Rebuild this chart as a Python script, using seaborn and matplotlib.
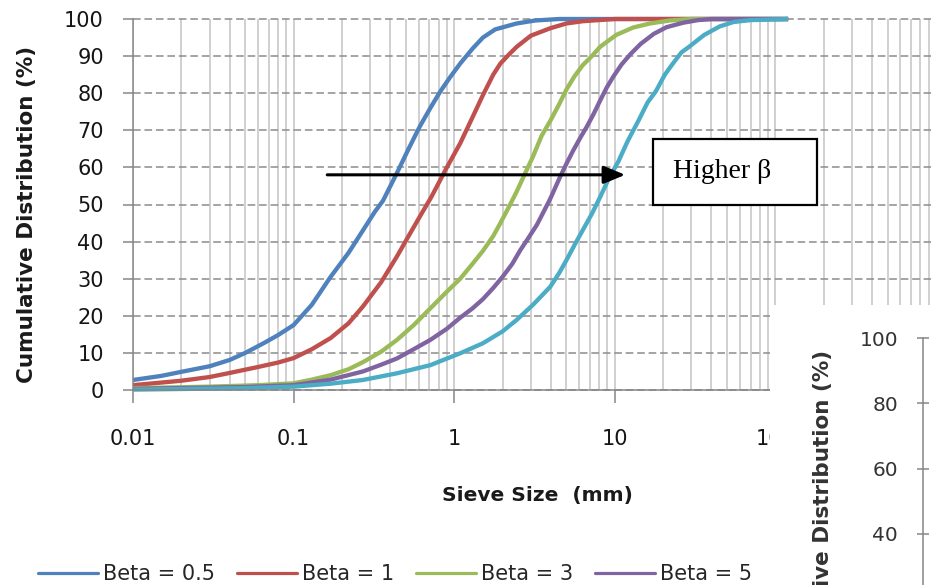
import matplotlib
matplotlib.use("Agg")
import matplotlib.pyplot as plt
import seaborn as sns
import pandas as pd
import numpy as np
from matplotlib.patches import Rectangle
from matplotlib.lines import Line2D
from matplotlib.ticker import LogLocator, NullFormatter

# ---------------- data ----------------
series_labels = ["Beta = 0.5", "Beta = 1", "Beta = 3", "Beta = 5", "Beta = 10"]
series_colors = ["#4F81BD", "#C0504D", "#9BBB59", "#8064A2", "#4BACC6"]

size_b05 = [0.01, 0.015, 0.02, 0.03, 0.04, 0.05, 0.065, 0.08, 0.1, 0.13, 0.17, 0.22, 0.27, 0.32,
            0.36, 0.44, 0.52, 0.61, 0.71, 0.82, 0.95, 1.09, 1.3, 1.51, 1.8, 2.45, 3.2, 4.5, 120]
cdf_b05 = [2.7, 3.8, 4.9, 6.4, 8.1, 10, 12.6, 14.8, 17.5, 23, 30.5, 37, 43, 48,
           51, 58.5, 65, 71, 76, 80.5, 84.5, 88, 92, 95, 97.2, 98.8, 99.6, 100, 100]

size_b1 = [0.01, 0.02, 0.03, 0.04, 0.06, 0.08, 0.1, 0.13, 0.17, 0.22, 0.27, 0.35, 0.44, 0.52,
           0.61, 0.72, 0.9, 1.09, 1.3, 1.51, 1.75, 1.94, 2.2, 2.45, 3.0, 3.96, 5, 6.3, 10, 120]
cdf_b1 = [1.3, 2.5, 3.5, 4.6, 6.2, 7.4, 8.6, 11, 14, 18, 22.5, 29, 36, 41.5,
          46.7, 52, 60, 66.5, 73.5, 79.5, 85, 88, 90.5, 92.5, 95.5, 97.5, 98.8, 99.4, 100, 100]

size_b3 = [0.01, 0.03, 0.06, 0.1, 0.13, 0.17, 0.22, 0.27, 0.35, 0.44, 0.56, 0.71, 0.9, 1.09,
           1.3, 1.51, 1.75, 1.94, 2.2, 2.45, 2.77, 3.1, 3.5, 3.96, 4.5, 5, 5.6, 6.3, 7.2,
           8.1, 10.2, 13, 16.6, 22, 30, 120]
cdf_b3 = [0.5, 0.9, 1.3, 1.8, 2.8, 4.0, 5.6, 7.5, 10.3, 13.5, 17.5, 22, 26.5, 30,
          34, 37.5, 41.5, 45, 49.5, 53.5, 58.5, 63, 68.5, 72.5, 77, 81, 84.5, 87.5, 90,
          92.5, 95.7, 97.7, 98.8, 99.6, 100, 100]

size_b5 = [0.01, 0.05, 0.1, 0.17, 0.27, 0.35, 0.44, 0.56, 0.71, 0.9, 1.09, 1.3, 1.51, 1.75,
           2.0, 2.3, 2.58, 2.9, 3.27, 3.6, 3.96, 4.57, 5.0, 5.5, 6.1, 6.7, 7.4, 8.1, 8.9,
           9.8, 11, 12.5, 14.5, 17.5, 21, 26.7, 33, 40, 120]
cdf_b5 = [0.3, 0.8, 1.3, 2.8, 5.0, 6.8, 8.5, 11, 13.5, 16.5, 19.5, 22, 24.5, 27.5,
          30.5, 34, 37.7, 41, 44.5, 48, 51.5, 57.5, 61, 64.5, 68, 71, 74.5, 78, 81.5,
          84.5, 87.7, 90.5, 93.3, 96, 97.8, 99, 99.7, 100, 100]

size_b10 = [0.01, 0.05, 0.1, 0.17, 0.27, 0.44, 0.71, 1.09, 1.51, 2.0, 2.45, 3.1, 3.96, 4.5,
            5, 5.6, 6.3, 7.2, 8.1, 9.3, 10.5, 12, 14, 16, 18, 20.5, 23, 26, 29, 36, 45,
            55, 70, 120]
cdf_b10 = [0.1, 0.5, 0.9, 1.7, 2.7, 4.5, 6.7, 9.9, 12.6, 15.8, 18.9, 23, 27.8, 31.5,
           35, 39, 43, 47.5, 52, 57.5, 61.5, 67, 72.5, 77.5, 80.5, 85, 88, 91, 92.5, 95.7, 98,
           99.2, 99.7, 100]

x_ticks = [0.01, 0.1, 1, 10, 100]
x_tick_labels = ["0.01", "0.1", "1", "10", "100"]
x_max = 1000
y_ticks = [0, 10, 20, 30, 40, 50, 60, 70, 80, 90, 100]
inset_y_ticks = [0, 20, 40, 60, 80, 100]

# ---------------- build long table ----------------
sizes = [size_b05, size_b1, size_b3, size_b5, size_b10]
cdfs = [cdf_b05, cdf_b1, cdf_b3, cdf_b5, cdf_b10]
df = pd.concat(
    [pd.DataFrame({"size": s, "cdf": c, "series": lab}) for s, c, lab in zip(sizes, cdfs, series_labels)],
    ignore_index=True,
)

# ---------------- style ----------------
sns.set_style("white")
plt.rcParams["font.family"] = ["DejaVu Sans"]

W, H = 931, 585
fig = plt.figure(figsize=(W / 100, H / 100), dpi=100)
fig.patch.set_facecolor("white")

ax_left, ax_right, ax_top, ax_bottom = 133, 936, 19, 390
ax = fig.add_axes([ax_left / W, 1 - ax_bottom / H, (ax_right - ax_left) / W, (ax_bottom - ax_top) / H])

sns.lineplot(
    data=df, x="size", y="cdf", hue="series", hue_order=series_labels,
    palette=series_colors, estimator=None, errorbar=None, linewidth=3.1,
    legend=False, ax=ax,
)
for ln in ax.lines:
    ln.set_clip_on(False)
    ln.set_solid_capstyle("butt")
    ln.set_solid_joinstyle("round")

ax.set_xscale("log")
ax.set_xlim(x_ticks[0], x_max)
ax.set_ylim(0, 100)
ax.set_xticks(x_ticks)
ax.set_xticklabels(x_tick_labels)
ax.set_yticks(y_ticks)
ax.xaxis.set_minor_locator(LogLocator(base=10, subs=np.arange(2, 10), numticks=100))
ax.xaxis.set_minor_formatter(NullFormatter())

ax.set_axisbelow(True)
ax.grid(True, which="both", axis="x", color="#c4c4c4", lw=1.1, ls="-")
ax.grid(True, which="major", axis="y", color="#8c8c8c", lw=1.1, ls=(0, (5, 2.5)))
for gl in ax.get_ygridlines():
    gl.set_clip_on(False)

axis_gray = "#868686"
for side in ["top", "right"]:
    ax.spines[side].set_visible(False)
for side in ["left", "bottom"]:
    ax.spines[side].set_color(axis_gray)
    ax.spines[side].set_linewidth(1.1)

ax.tick_params(axis="x", which="minor", length=0, bottom=False)
ax.tick_params(axis="x", which="major", bottom=True, direction="out", length=9, width=1.1,
               color=axis_gray, pad=19, labelsize=15, labelcolor="#151515")
ax.tick_params(axis="y", left=True, direction="out", length=7.5, width=1.1,
               color=axis_gray, pad=13.5, labelsize=15, labelcolor="#151515")
ax.set_xlabel("")
ax.set_ylabel("")

# axis titles
fig.text(27 / W, 1 - 214 / H, "Cumulative Distribution (%)", rotation=90, ha="center", va="center",
         fontsize=15.5, fontweight="bold", color="#1a1a1a")
fig.text(537 / W, 1 - 496 / H, "Sieve Size  (mm)", ha="center", va="center",
         fontsize=14.5, fontweight="bold", color="#1a1a1a")

# legend (part of main axes so the overlay panel hides its tail)
fs_leg = 15
fs_px = fs_leg * 100 / 72
handles = [Line2D([], [], color=c, lw=2.3) for c in series_colors]
ax.legend(handles, series_labels, loc="center left", bbox_to_anchor=(38 / W, 1 - 574 / H),
          bbox_transform=fig.transFigure, ncol=5, frameon=False, fontsize=fs_leg,
          handlelength=60 / fs_px, handletextpad=5 / fs_px, columnspacing=22 / fs_px,
          borderpad=0, borderaxespad=0)

# arrow and "Higher β" box
ax.annotate("", xy=(11.6, 58), xytext=(0.162, 58),
            arrowprops=dict(arrowstyle="-|>,head_length=13,head_width=5.4", mutation_scale=1,
                            lw=2.2, color="black", shrinkA=0, shrinkB=0))
fig.add_artist(Rectangle((653 / W, 1 - 205 / H), (817 - 653) / W, (205 - 139) / H,
                         transform=fig.transFigure, facecolor="white", edgecolor="black",
                         lw=1.6, zorder=1.5))
fig.text(673 / W, 1 - 171 / H, "Higher β", ha="left", va="center", fontsize=20,
         family=["Liberation Serif", "DejaVu Serif"], color="black", zorder=3)

# white overlay panel with the neighbouring chart's axis
fig.add_artist(Rectangle((770 / W, 0), (W - 770) / W, (H - 305) / H, transform=fig.transFigure,
                         facecolor="white", edgecolor="none", zorder=1))
ax2_top, ax2_zero = 338, 664.5
ax2 = fig.add_axes([923 / W, 1 - ax2_zero / H, 0.3, (ax2_zero - ax2_top) / H], zorder=2)
ax2.set_ylim(0, 100)
ax2.set_yticks(inset_y_ticks)
ax2.set_xticks([])
for side in ["top", "right", "bottom"]:
    ax2.spines[side].set_visible(False)
ax2.spines["left"].set_color(axis_gray)
ax2.spines["left"].set_linewidth(1.1)
ax2.tick_params(axis="y", left=True, direction="inout", length=8.6, width=1.1, color=axis_gray,
                pad=13.7, labelsize=14.5, labelcolor="#333333")
ax2.grid(False)
fig.text(823 / W, 1 - 350 / H, "Cumulative Distribution (%)", rotation=90, ha="center", va="top",
         fontsize=15.5, fontweight="bold", color="#333333", zorder=3)

fig.savefig("out.png", dpi=100, facecolor="white")
